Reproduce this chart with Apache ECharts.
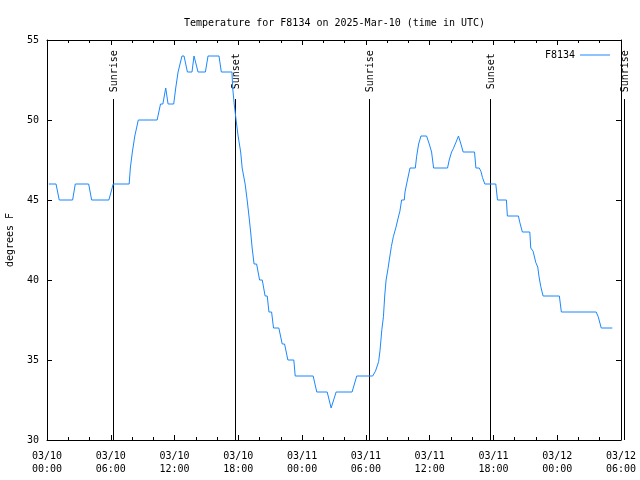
<!DOCTYPE html>
<html>
<head>
<meta charset="utf-8">
<script src="https://cdn.jsdelivr.net/npm/echarts@6/dist/echarts.min.js"></script>
<style>html,body{margin:0;padding:0;background:#fff;}#c{width:640px;height:480px;}</style>
</head>
<body>
<div id="c"></div>
<script>
// hours since 2025-03-10 00:00 UTC
const hours = [0.17,0.85,1.15,2.41,2.66,3.92,4.2,5.82,6.23,7.73,7.84,8.03,8.26,8.59,10.36,10.68,10.9,11.17,11.39,11.92,12.11,12.33,12.7,12.89,13.21,13.64,13.83,14.21,14.9,15.15,16.18,16.4,17.4,17.47,17.61,17.79,17.98,18.22,18.36,18.64,18.83,19.0,19.16,19.3,19.48,19.72,20.0,20.25,20.52,20.72,20.88,21.13,21.31,21.81,22.13,22.35,22.66,23.22,23.35,25.04,25.38,26.36,26.73,27.2,28.7,29.14,30.64,30.9,31.2,31.33,31.5,31.65,31.77,31.9,32.08,32.2,32.4,32.58,32.83,33.08,33.2,33.36,33.61,33.68,33.83,33.99,34.15,34.65,34.77,34.96,35.18,35.71,35.96,36.18,36.37,37.68,37.84,38.06,38.22,38.47,38.71,38.94,39.15,40.22,40.35,40.66,40.82,40.97,41.19,42.22,42.38,43.22,43.31,44.35,44.48,44.72,45.42,45.51,45.73,45.98,46.17,46.29,46.45,46.67,48.2,48.39,51.67,51.86,52.14,53.18];
const temps = [46,46,45,45,46,46,45,45,46,46,47,48,49,50,50,51,51,52,51,51,52,53,54,54,53,53,54,53,53,54,54,53,53,52,51,50,49,48,47,46,45,44,43,42,41,41,40,40,39,39,38,38,37,37,36,36,35,35,34,34,33,33,32,33,33,34,34,34.3,34.9,35.6,36.9,37.7,39,40,40.7,41.25,42.1,42.7,43.3,44,44.3,45,45,45.5,46,46.5,47,47,47.7,48.5,49,49,48.5,48,47,47,47.5,48,48.2,48.6,49,48.5,48,48,47,47,46.8,46.4,46,46,45,45,44,44,43.6,43,43,42,41.8,41.1,40.8,40.2,39.6,39,39,38,38,37.7,37,37];
const sunHours = [6.23, 17.72, 30.27, 41.72, 54.27];
const sunLabels = ['Sunrise','Sunset','Sunrise','Sunset','Sunrise'];
const xTickLabels = ['03/10\n00:00','03/10\n06:00','03/10\n12:00','03/10\n18:00','03/11\n00:00','03/11\n06:00','03/11\n12:00','03/11\n18:00','03/12\n00:00','03/12\n06:00'];
const seriesName = 'F8134';

const FONT = '"DejaVu Sans Mono", "Liberation Mono", monospace';
const chart = echarts.init(document.getElementById('c'), null, {renderer:'canvas'});

const xBase = {
  type:'value', min:0, max:54, interval:6,
  axisLine:{show:true, onZero:false, lineStyle:{color:'#000', width:1}},
  axisTick:{show:true, inside:true, length:5, lineStyle:{color:'#000'}},
  minorTick:{show:true, splitNumber:3, length:3, lineStyle:{color:'#000'}},
  splitLine:{show:false}
};
const yBase = {
  type:'value', min:30, max:55, interval:5,
  axisLine:{show:true, onZero:false, lineStyle:{color:'#000', width:1}},
  axisTick:{show:true, inside:true, length:5, lineStyle:{color:'#000'}},
  splitLine:{show:false}
};

chart.setOption({
  animation:false,
  backgroundColor:'#fff',
  title:{
    text:'Temperature for F8134 on 2025-Mar-10 (time in UTC)',
    left:179, top:13,
    textStyle:{fontFamily:FONT, fontSize:10, fontWeight:'normal', color:'#000'}
  },
  legend:{
    data:[{name:seriesName, icon:'rect'}], right:25, top:45, align:'right',
    itemWidth:30, itemHeight:1, itemGap:5,
    textStyle:{fontFamily:FONT, fontSize:10, color:'#000'}
  },
  grid:{left:47, right:19, top:40, bottom:40, containLabel:false, outerBoundsMode:'none'},
  xAxis:[
    Object.assign({}, xBase, {
      position:'bottom',
      axisLabel:{show:true, margin:10, fontFamily:FONT, fontSize:10, color:'#000', lineHeight:13,
        formatter:(v)=>xTickLabels[Math.round(v/6)] || ''}
    }),
    Object.assign({}, xBase, {position:'top', axisLabel:{show:false}})
  ],
  yAxis:[
    Object.assign({}, yBase, {
      position:'left',
      name:'degrees F', nameLocation:'middle', nameGap:32, nameRotate:90,
      nameTextStyle:{fontFamily:FONT, fontSize:10, color:'#000'},
      axisLabel:{show:true, margin:8, fontFamily:FONT, fontSize:10, color:'#000'}
    }),
    Object.assign({}, yBase, {position:'right', axisLabel:{show:false}})
  ],
  series:[
    {
      type:'custom', name:'sun', clip:false, silent:true,
      xAxisIndex:0, yAxisIndex:0,
      data: sunHours.map((h)=>[h, 30]),
      encode:{x:0, y:1},
      renderItem:function(params, api){
        const h = api.value(0);
        const p0 = api.coord([h, 30]);
        const p1 = api.coord([h, 51.31]);
        const pt = api.coord([h, 53.05]);
        const lx = Math.round(p0[0]) + 0.5;
        return {type:'group', children:[
          {type:'line', shape:{x1:lx, y1:p0[1], x2:lx, y2:p1[1]}, style:{stroke:'#000', lineWidth:1}},
          {type:'text', x:Math.round(pt[0])+1, y:pt[1], rotation:Math.PI/2,
            style:{text:sunLabels[params.dataIndex], font:'10px ' + FONT, fill:'#000', align:'center', verticalAlign:'middle'}}
        ]};
      },
      z:1
    },
    {
      type:'line', name:seriesName, xAxisIndex:0, yAxisIndex:0,
      data: hours.map((h,i)=>[h, temps[i]]),
      symbol:'none', showSymbol:false,
      lineStyle:{color:'#1a88ff', width:1},
      itemStyle:{color:'#1a88ff'},
      z:3
    }
  ]
});
</script>
</body>
</html>
